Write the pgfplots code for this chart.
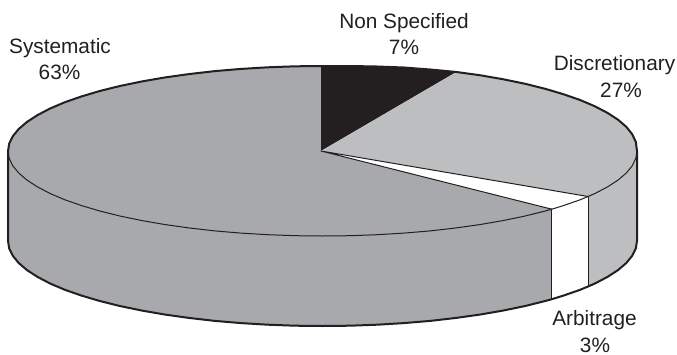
\documentclass[border=0pt]{standalone}
\usepackage{pgfplots}
\pgfplotsset{compat=1.18}
\usepackage{fontspec}
\setmainfont{Liberation Sans}
\definecolor{ink}{HTML}{231F20}
\definecolor{sysgrey}{HTML}{A7A9AC}
\definecolor{disgrey}{HTML}{BCBEC0}
\begin{document}
\begin{tikzpicture}
\begin{axis}[
  width=677pt, height=354pt, scale only axis,
  xmin=0, xmax=677, ymin=0, ymax=354, y dir=reverse,
  hide axis, clip=false,
  every axis plot/.append style={line join=round, line cap=round},
]
% Page frame
\path (axis cs:0,0) rectangle (axis cs:677,354);
% Side wall: Systematic
\addplot[fill=sysgrey, draw=none] coordinates {
(8,151)(9.2,158.4)(12.8,165.8)(18.7,173)(27,180.1)(37.5,186.9)(50.1,193.5)(64.9,199.8)(81.6,205.6)(100.1,211.1)(120.3,216.1)(142.1,220.6)(165.2,224.6)(189.6,228)(214.9,230.9)(241.1,233.1)(267.9,234.7)(295.1,235.7)(322.5,236)(349.9,235.7)(377.1,234.7)(403.9,233.1)(430.1,230.9)(455.4,228)(479.8,224.6)(502.9,220.6)(524.7,216.1)(544.9,211.1)(551.8,209.2)
(551.8,299.2)(544.9,301.1)(524.7,306.1)(502.9,310.6)(479.8,314.6)(455.4,318)(430.1,320.9)(403.9,323.1)(377.1,324.7)(349.9,325.7)(322.5,326)(295.1,325.7)(267.9,324.7)(241.1,323.1)(214.9,320.9)(189.6,318)(165.2,314.6)(142.1,310.6)(120.3,306.1)(100.1,301.1)(81.6,295.6)(64.9,289.8)(50.1,283.5)(37.5,276.9)(27,270.1)(18.7,263)(12.8,255.8)(9.2,248.4)(8,241)
} -- cycle;
% Side wall: Arbitrage
\addplot[fill=white, draw=none] coordinates {
(551.8,209.2)(563.4,205.6)(580.1,199.8)(588,196.5)
(588,286.5)(580.1,289.8)(563.4,295.6)(551.8,299.2)
} -- cycle;
% Side wall: Discretionary
\addplot[fill=disgrey, draw=none] coordinates {
(588,196.5)(594.9,193.5)(607.5,186.9)(618,180.1)(626.3,173)(632.2,165.8)(635.8,158.4)(637,151)
(637,241)(635.8,248.4)(632.2,255.8)(626.3,263)(618,270.1)(607.5,276.9)(594.9,283.5)(588,286.5)
} -- cycle;
% Top face: Systematic, 63%
\addplot[fill=sysgrey, draw=none] coordinates {
(321,151)(551.8,209.2)(544.9,211.1)(524.7,216.1)(502.9,220.6)(479.8,224.6)(455.4,228)(430.1,230.9)(403.9,233.1)(377.1,234.7)(349.9,235.7)(322.5,236)(295.1,235.7)(267.9,234.7)(241.1,233.1)(214.9,230.9)(189.6,228)(165.2,224.6)(142.1,220.6)(120.3,216.1)(100.1,211.1)(81.6,205.6)(64.9,199.8)(50.1,193.5)(37.5,186.9)(27,180.1)(18.7,173)(12.8,165.8)(9.2,158.4)(8,151)
(9.2,143.6)(12.8,136.2)(18.7,129)(27,121.9)(37.5,115.1)(50.1,108.5)(64.9,102.2)(81.6,96.4)(100.1,90.9)(120.3,85.9)(142.1,81.4)(165.2,77.4)(189.6,74)(214.9,71.1)(241.1,68.9)(267.9,67.3)(295.1,66.3)(321,66)
} -- cycle;
% Top face: Non Specified, 7%
\addplot[fill=ink, draw=none] coordinates {
(321,151)(321,66)(349.9,66)(377.1,66.5)(403.9,67.5)(430.1,69.5)(456.4,72)
} -- cycle;
% Top face: Discretionary, 27%
\addplot[fill=disgrey, draw=none] coordinates {
(321,151)(456.4,72)(479.8,75.2)(502.9,79.2)(524.7,83.7)(544.9,88.7)(563.4,94.2)(580.1,100)(594.9,106.3)(607.5,112.9)(618,119.7)(626.3,126.8)(632.2,134.2)(635.8,141.8)(637,151)(635.8,158.4)(632.2,165.8)(626.3,173)(618,180.1)(607.5,186.9)(594.9,193.5)(588,196.5)
} -- cycle;
% Top face: Arbitrage, 3%
\addplot[fill=white, draw=none] coordinates {
(321,151)(588,196.5)(580.1,199.8)(563.4,205.6)(551.8,209.2)
} -- cycle;
% Slice edges and wall joints
\addplot[ink, line width=1pt] coordinates {(551.8,209.2)(321,151)(588,196.5)};
\addplot[ink, line width=1pt] coordinates {(551.8,209.2)(551.8,299.2)};
\addplot[ink, line width=1pt] coordinates {(588,196.5)(588,286.5)};
% Front rim of the top face
\addplot[ink, line width=1pt] coordinates {
(8,151)(9.2,158.4)(12.8,165.8)(18.7,173)(27,180.1)(37.5,186.9)(50.1,193.5)(64.9,199.8)(81.6,205.6)(100.1,211.1)(120.3,216.1)(142.1,220.6)(165.2,224.6)(189.6,228)(214.9,230.9)(241.1,233.1)(267.9,234.7)(295.1,235.7)(322.5,236)(349.9,235.7)(377.1,234.7)(403.9,233.1)(430.1,230.9)(455.4,228)(479.8,224.6)(502.9,220.6)(524.7,216.1)(544.9,211.1)(551.8,209.2)(563.4,205.6)(580.1,199.8)(588,196.5)(594.9,193.5)(607.5,186.9)(618,180.1)(626.3,173)(632.2,165.8)(635.8,158.4)(637,151)
};
% Heavy outline of the whole disc
\addplot[ink, line width=2pt] coordinates {
(8,151)(9.2,143.6)(12.8,136.2)(18.7,129)(27,121.9)(37.5,115.1)(50.1,108.5)(64.9,102.2)(81.6,96.4)(100.1,90.9)(120.3,85.9)(142.1,81.4)(165.2,77.4)(189.6,74)(214.9,71.1)(241.1,68.9)(267.9,67.3)(295.1,66.3)(322.5,66)(349.9,66)(377.1,66.5)(403.9,67.5)(430.1,69.5)(456.4,72)(479.8,75.2)(502.9,79.2)(524.7,83.7)(544.9,88.7)(563.4,94.2)(580.1,100)(594.9,106.3)(607.5,112.9)(618,119.7)(626.3,126.8)(632.2,134.2)(635.8,141.8)(637,151)
(637,241)(635.8,248.4)(632.2,255.8)(626.3,263)(618,270.1)(607.5,276.9)(594.9,283.5)(588,286.5)(580.1,289.8)(563.4,295.6)(551.8,299.2)(544.9,301.1)(524.7,306.1)(502.9,310.6)(479.8,314.6)(455.4,318)(430.1,320.9)(403.9,323.1)(377.1,324.7)(349.9,325.7)(322.5,326)(295.1,325.7)(267.9,324.7)(241.1,323.1)(214.9,320.9)(189.6,318)(165.2,314.6)(142.1,310.6)(120.3,306.1)(100.1,301.1)(81.6,295.6)(64.9,289.8)(50.1,283.5)(37.5,276.9)(27,270.1)(18.7,263)(12.8,255.8)(9.2,248.4)(8,241)
} -- cycle;
% Slice labels
\tikzset{lab/.style={anchor=base, inner sep=0pt, text=ink, font=\fontsize{20.8}{24}\selectfont}}
\node[lab] at (axis cs:404,28) {Non Specified};
\node[lab] at (axis cs:404,54) {7\%};
\node[lab] at (axis cs:614.5,70) {Discretionary};
\node[lab] at (axis cs:621,97) {27\%};
\node[lab] at (axis cs:594.5,325) {Arbitrage};
\node[lab] at (axis cs:595,352) {3\%};
\node[lab] at (axis cs:60,53) {Systematic};
\node[lab] at (axis cs:59.5,79) {63\%};
\end{axis}
\end{tikzpicture}
\end{document}
